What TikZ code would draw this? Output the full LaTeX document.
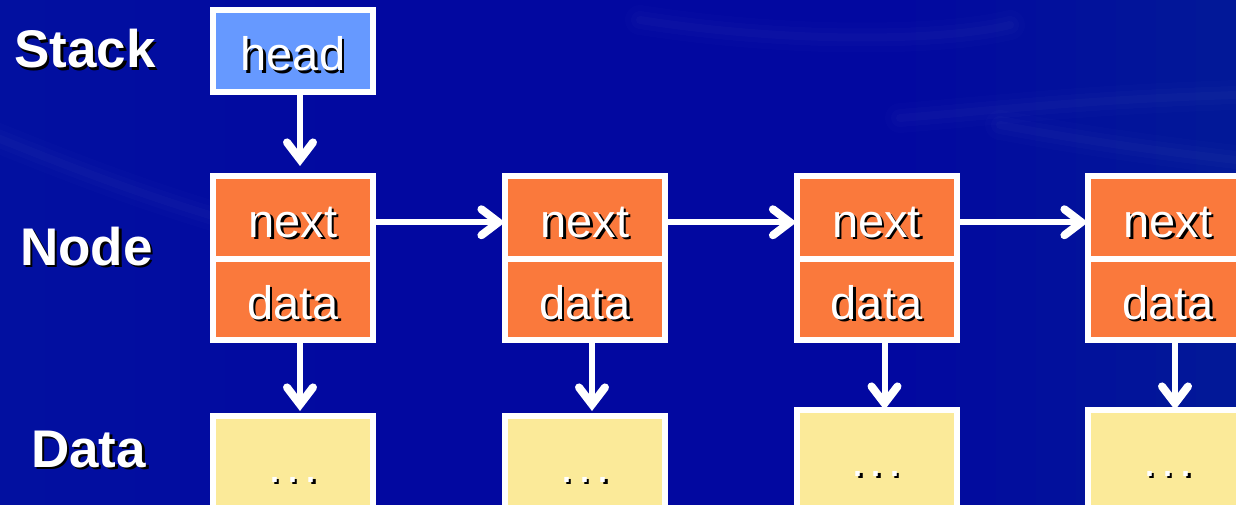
\documentclass[tikz,border=0pt]{standalone}
\usepackage{fontspec}
\setmainfont{Liberation Sans}
\usetikzlibrary{arrows.meta}

\definecolor{bgmid}{RGB}{2,8,160}
\definecolor{bgglow}{RGB}{40,80,200}
\definecolor{bgteal}{RGB}{20,80,150}
\definecolor{headblue}{RGB}{102,153,255}
\definecolor{cellorange}{RGB}{250,121,60}
\definecolor{datayellow}{RGB}{251,234,153}

% white text with a dark drop shadow
\newcommand\shadowed[1]{\leavevmode\rlap{\kern2.5pt\raisebox{-2.5pt}{\color{black}#1}}#1}

\tikzset{
  box/.style={draw=white, line width=6pt, minimum width=160pt, inner sep=0pt,
    text=white, font=\fontsize{47}{47}\selectfont},
  headbox/.style={box, fill=headblue, minimum height=82pt, text height=40pt, text depth=0pt},
  nextcell/.style={box, fill=cellorange, minimum height=82.5pt, text height=40pt, text depth=0pt},
  datacell/.style={box, fill=cellorange, minimum height=81pt, text height=40pt, text depth=0pt},
  databox/.style={box, fill=datayellow, minimum height=110pt, text height=22pt, text depth=0pt},
  rowlabel/.style={anchor=base west, inner sep=0pt, text=white,
    font=\fontsize{53}{53}\selectfont\bfseries},
  link/.style={white, line width=6pt,
    -{Straight Barb[length=17pt, width=26pt, line width=8pt, line cap=round, line join=miter]}},
  streak/.style={white, line cap=round},
}

\begin{document}
\begin{tikzpicture}[x=1pt, y=-1pt]
  \clip (0,0) rectangle (1236,505);

  % background: deep blue, a little lighter at both sides
  \fill[bgmid] (0,0) rectangle (1236,505);
  \foreach \k in {1,...,8} {
    \fill[bgglow, opacity=0.025] (0,0) rectangle (45*\k,505);
    \fill[bgteal, opacity=0.035] (1236-40*\k,0) rectangle (1236,505);
  }
  \foreach \w/\o in {30/0.012, 18/0.015, 8/0.02} {
    \draw[streak, line width=\w pt, opacity=\o] (-10,135) .. controls (90,175) and (190,215) .. (340,250);
    \draw[streak, line width=\w pt, opacity=\o] (640,20) .. controls (800,45) and (950,40) .. (1010,25);
    \draw[streak, line width=\w pt, opacity=\o] (900,118) .. controls (1000,110) and (1080,100) .. (1236,95);
    \draw[streak, line width=\w pt, opacity=\o] (1000,125) .. controls (1080,140) and (1150,150) .. (1236,160);
  }

  % row labels
  \node[rowlabel] (lstack) at (14,68) {\shadowed{Stack}};
  \node[rowlabel] (lnode) at (20,265) {\shadowed{Node}};
  \node[rowlabel] (ldata) at (31,467) {\shadowed{Data}};

  % stack variable
  \node[headbox] (head) at (293,51) {\shadowed{head}};

  % list nodes and their data
  \foreach \i/\x/\dy in {1/293/471, 2/585/471, 3/876.5/465, 4/1168/465} {
    \node[nextcell] (next\i) at (\x,217.25) {\shadowed{next}};
    \node[datacell] (data\i) at (\x,299) {\shadowed{data}};
    \node[databox] (val\i) at (\x,\dy) {\shadowed{.\hspace{5pt}.\hspace{5pt}.}};
  }

  % pointers
  \draw[link, shorten >=7pt] ([xshift=7pt]head.south) -- ([xshift=7pt]next1.north);
  \foreach \i/\j in {1/2, 2/3, 3/4}
    \draw[link] ([yshift=-5pt]next\i.east) -- ([xshift=3pt, yshift=-5pt]next\j.west);
  \foreach \i/\s/\k in {1/2/7, 2/2/7, 3/-3/8, 4/-3/7}
    \draw[link] ([xshift=\k pt]data\i.south) -- ([xshift=\k pt, yshift=\s pt]val\i.north);
\end{tikzpicture}
\end{document}
